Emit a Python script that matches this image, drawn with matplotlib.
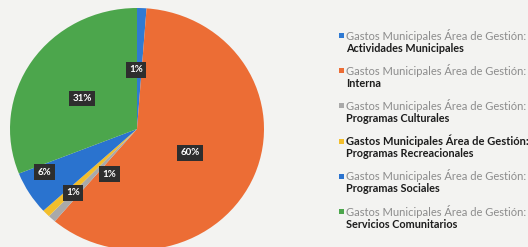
import numpy as np
import matplotlib.pyplot as plt

# datos del grafico
prefijo = "Gastos Municipales Área de Gestión:"
categorias = ["Actividades Municipales", "Interna", "Programas Culturales",
              "Programas Recreacionales", "Programas Sociales", "Servicios Comunitarios"]
valores = [1.2, 60.0, 1.0, 1.0, 5.8, 31.0]
colores = ["#2f7ad3", "#ec6d35", "#a9a9a9", "#f2be2c", "#2a73cf", "#4ca64c"]

plt.rcParams['font.family'] = ['Lato', 'DejaVu Sans']

W, H = 528, 247
fig = plt.figure(figsize=(W / 100, H / 100), dpi=100, facecolor="#f3f3f1")

# pie slightly elliptic, as in the photo
cx, cy, rx, ry = 137, 129, 127, 121
ax = fig.add_axes([(cx - rx) / W, (H - cy - ry) / H, 2 * rx / W, 2 * ry / H])
ax.set_facecolor("none")
wedges, _, autotexts = ax.pie(valores, colors=colores, startangle=90, counterclock=False,
                              autopct='%.0f%%', wedgeprops=dict(linewidth=0))
ax.set_aspect('auto')
ax.set_xlim(-1, 1)
ax.set_ylim(-1, 1)

dist = [0.49, 0.46, 0.43, 0.73, 0.81, 0.50]
giro = [3, -3, 12, 2, -6, 4]
for w, t, d, g in zip(wedges, autotexts, dist, giro):
    ang = np.deg2rad((w.theta1 + w.theta2) / 2 + g)
    t.set_position((d * np.cos(ang), d * np.sin(ang)))
    t.set_color("white")
    t.set_fontsize(7)
    t.set_fontweight("bold")
    t.set_bbox(dict(boxstyle="square,pad=0.35", fc="#2e2e2e", ec="none"))

# leyenda manual
x0, y0, paso = 346, 35, 35.2
for i, (cat, col) in enumerate(zip(categorias, colores)):
    y = y0 + i * paso
    fig.patches.append(plt.Rectangle(((x0 - 7) / W, 1 - (y + 3) / H), 5 / W, 5 / H,
                                     transform=fig.transFigure, fc=col, ec="none"))
    c1 = "#1c1c1c" if i == 3 else "#8c8c8c"
    fw = "bold" if i == 3 else "normal"
    fig.text(x0 / W, 1 - y / H, prefijo, fontsize=8, color=c1, fontweight=fw, va="center")
    fig.text(x0 / W, 1 - (y + 13) / H, cat, fontsize=7.8, color="#1c1c1c",
             fontweight="bold", va="center")

fig.savefig("out.png", dpi=100, facecolor=fig.get_facecolor())
